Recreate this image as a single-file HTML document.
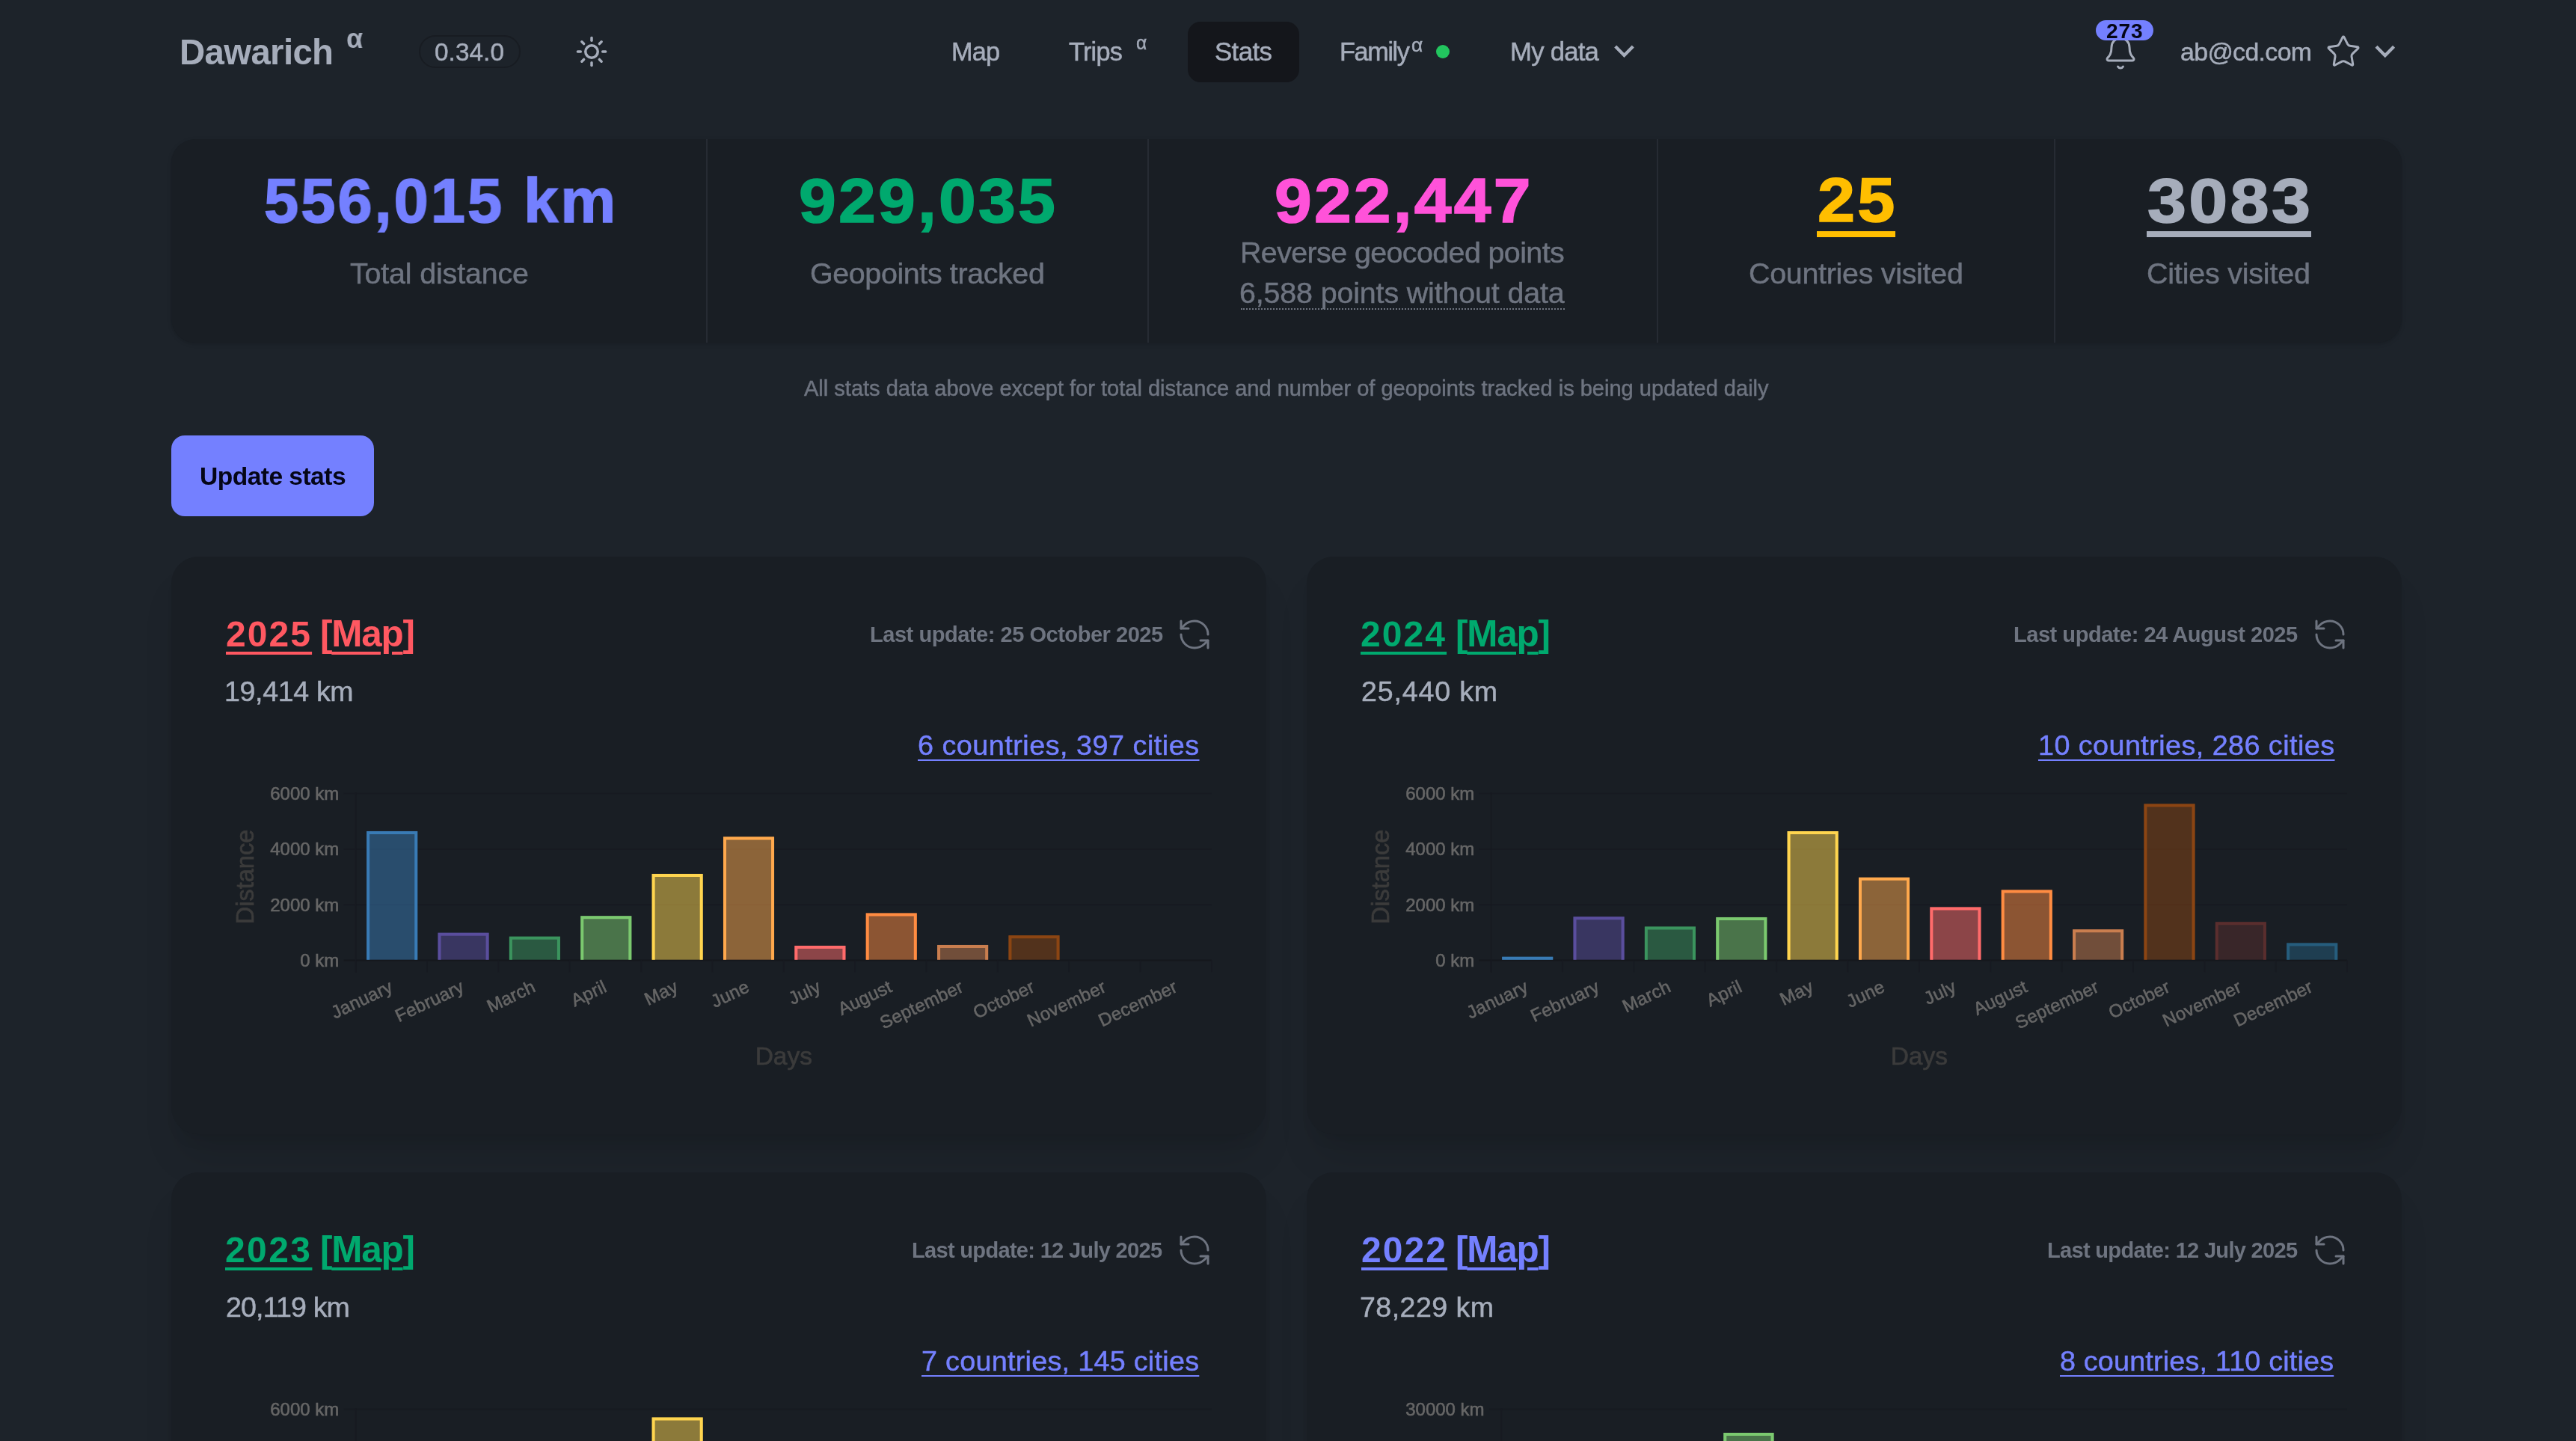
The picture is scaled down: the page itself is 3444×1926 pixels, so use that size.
<!DOCTYPE html>
<html><head><meta charset="utf-8"><title>Dawarich Stats</title>
<style>
html,body{margin:0;padding:0;width:3444px;height:1926px;overflow:hidden;background:#1d232a}
body{position:relative;font-family:"Liberation Sans",sans-serif}
.t{position:absolute;white-space:nowrap;will-change:transform}
svg{will-change:transform}
</style></head><body>
<div class="t" id="t0" style="left:240.00px;top:46.31px;font-size:47.41px;line-height:47.41px;color:#a6adbb;font-weight:700;letter-spacing:-0.679px;">Dawarich</div>
<div class="t" id="t1" style="left:463.00px;top:33.30px;font-size:37.00px;line-height:37.00px;color:#a6adbb;font-weight:700;letter-spacing:0.000px;transform:scaleX(0.9758);transform-origin:0 0;">α</div>
<div style="position:absolute;left:560px;top:47px;width:136px;height:44px;border:2.5px solid #181c22;border-radius:22px;box-sizing:border-box;background:#1d232a"></div>
<div class="t" id="t2" style="left:581.00px;top:53.00px;font-size:33.33px;line-height:33.33px;color:#a6adbb;font-weight:400;letter-spacing:0.060px;-webkit-text-stroke:0.5px #a6adbb;">0.34.0</div>
<svg style="position:absolute;left:0;top:0;overflow:visible" width="1" height="1" fill="none" stroke="#a6adbb" stroke-width="3.5" stroke-linecap="round"><circle cx="791" cy="69" r="8.25"/><line x1="805.70" y1="69.00" x2="809.60" y2="69.00"/><line x1="801.39" y1="79.39" x2="804.15" y2="82.15"/><line x1="791.00" y1="83.70" x2="791.00" y2="87.60"/><line x1="780.61" y1="79.39" x2="777.85" y2="82.15"/><line x1="776.30" y1="69.00" x2="772.40" y2="69.00"/><line x1="780.61" y1="58.61" x2="777.85" y2="55.85"/><line x1="791.00" y1="54.30" x2="791.00" y2="50.40"/><line x1="801.39" y1="58.61" x2="804.15" y2="55.85"/></svg>
<div class="t" id="t3" style="left:1272.00px;top:52.10px;font-size:34.30px;line-height:34.30px;color:#a6adbb;font-weight:400;letter-spacing:-0.850px;-webkit-text-stroke:0.5px #a6adbb;">Map</div>
<div class="t" id="t4" style="left:1429.00px;top:52.10px;font-size:34.30px;line-height:34.30px;color:#a6adbb;font-weight:400;letter-spacing:-0.738px;-webkit-text-stroke:0.5px #a6adbb;">Trips</div>
<div class="t" id="t5" style="left:1519.00px;top:44.21px;font-size:26.50px;line-height:26.50px;color:#a6adbb;font-weight:400;letter-spacing:0.000px;transform:scaleX(0.9297);transform-origin:0 0;-webkit-text-stroke:0.5px #a6adbb;">α</div>
<div style="position:absolute;left:1588px;top:29px;width:149px;height:81px;background:#14161b;border-radius:17px"></div>
<div class="t" id="t6" style="left:1624.00px;top:52.31px;font-size:34.88px;line-height:34.88px;color:#a6adbb;font-weight:400;letter-spacing:-0.637px;-webkit-text-stroke:0.5px #a6adbb;">Stats</div>
<div class="t" id="t7" style="left:1791.00px;top:52.31px;font-size:34.30px;line-height:34.30px;color:#a6adbb;font-weight:400;letter-spacing:-1.400px;-webkit-text-stroke:0.5px #a6adbb;">Family</div>
<div class="t" id="t8" style="left:1887.00px;top:47.10px;font-size:26.00px;line-height:26.00px;color:#a6adbb;font-weight:400;letter-spacing:0.000px;transform:scaleX(1.0145);transform-origin:0 0;-webkit-text-stroke:0.5px #a6adbb;">α</div>
<div style="position:absolute;left:1920px;top:60px;width:18px;height:18px;background:#22c55e;border-radius:50%"></div>
<div class="t" id="t9" style="left:2019.00px;top:52.31px;font-size:34.74px;line-height:34.74px;color:#a6adbb;font-weight:400;letter-spacing:-0.775px;-webkit-text-stroke:0.5px #a6adbb;">My data</div>
<svg style="position:absolute;left:0;top:0;overflow:visible" width="1" height="1"><polyline points="2159.7,62.1 2171.5,74.0 2183.3,62.1" fill="none" stroke="#a6adbb" stroke-width="4.3" stroke-linecap="butt" stroke-linejoin="miter"/></svg>
<svg style="position:absolute;left:2811px;top:46.8px" width="48" height="48" viewBox="0 0 24 24" fill="none" stroke="#a6adbb" stroke-width="1.5" stroke-linecap="round" stroke-linejoin="round"><path d="M10.268 21a2 2 0 0 0 3.464 0"/><path d="M3.262 15.326A1 1 0 0 0 4 17h16a1 1 0 0 0 .74-1.673C19.41 13.956 18 12.499 18 8A6 6 0 0 0 6 8c0 4.499-1.411 5.956-2.738 7.326"/></svg>
<div style="position:absolute;left:2802px;top:27px;width:77px;height:27px;background:#7480ff;border-radius:14px"></div>
<div class="t" id="t10" style="left:2815.60px;top:28.00px;font-size:28.11px;line-height:28.11px;color:#050617;font-weight:700;letter-spacing:0.900px;">273</div>
<div class="t" id="t11" style="left:2915.00px;top:52.91px;font-size:33.87px;line-height:33.87px;color:#a6adbb;font-weight:400;letter-spacing:-0.638px;-webkit-text-stroke:0.5px #a6adbb;">ab@cd.com</div>
<svg style="position:absolute;left:3108.5px;top:45px" width="48" height="48" viewBox="0 0 24 24" fill="none" stroke="#a6adbb" stroke-width="1.5" stroke-linecap="round" stroke-linejoin="round"><path d="M11.525 2.295a.53.53 0 0 1 .95 0l2.31 4.679a2.123 2.123 0 0 0 1.595 1.16l5.166.756a.53.53 0 0 1 .294.904l-3.736 3.638a2.123 2.123 0 0 0-.611 1.878l.882 5.14a.53.53 0 0 1-.771.56l-4.618-2.428a2.122 2.122 0 0 0-1.973 0L6.396 21.01a.53.53 0 0 1-.77-.56l.881-5.139a2.122 2.122 0 0 0-.611-1.879L2.16 9.795a.53.53 0 0 1 .294-.906l5.165-.755a2.122 2.122 0 0 0 1.597-1.16z"/></svg>
<svg style="position:absolute;left:0;top:0;overflow:visible" width="1" height="1"><polyline points="3176.95,62.300000000000004 3188.75,74.2 3200.55,62.300000000000004" fill="none" stroke="#a6adbb" stroke-width="4.3" stroke-linecap="butt" stroke-linejoin="miter"/></svg>
<div style="position:absolute;left:229px;top:186px;width:2982px;height:272px;background:#191e24;border-radius:32px;box-shadow:0 2px 6px 0 rgba(0,0,0,.1),0 2px 4px -2px rgba(0,0,0,.1)"></div>
<div style="position:absolute;left:944px;top:186px;width:2px;height:272px;background:#262b33"></div>
<div style="position:absolute;left:1534px;top:186px;width:2px;height:272px;background:#262b33"></div>
<div style="position:absolute;left:2215px;top:186px;width:2px;height:272px;background:#262b33"></div>
<div style="position:absolute;left:2746px;top:186px;width:2px;height:272px;background:#262b33"></div>
<div class="t" id="t12" style="left:353.00px;top:225.81px;font-size:84.04px;line-height:84.04px;color:#7480ff;font-weight:700;letter-spacing:3.000px;transform:scaleX(0.9888);transform-origin:0 0;-webkit-text-stroke:1.6px #7480ff;">556,015 km</div>
<div class="t" id="t13" style="left:1068.40px;top:225.61px;font-size:84.04px;line-height:84.04px;color:#00a96e;font-weight:700;letter-spacing:3.000px;transform:scaleX(1.0658);transform-origin:0 0;-webkit-text-stroke:1.6px #00a96e;">929,035</div>
<div class="t" id="t14" style="left:1704.20px;top:225.72px;font-size:84.04px;line-height:84.04px;color:#ff52d9;font-weight:700;letter-spacing:3.000px;transform:scaleX(1.0641);transform-origin:0 0;-webkit-text-stroke:1.6px #ff52d9;">922,447</div>
<div class="t" id="t15" style="left:2430.00px;top:225.11px;font-size:84.04px;line-height:84.04px;color:#ffbe00;font-weight:700;letter-spacing:3.000px;transform:scaleX(1.0710);transform-origin:0 0;-webkit-text-stroke:1.6px #ffbe00;">25</div>
<div style="position:absolute;left:2429px;top:309px;width:105px;height:8px;background:#ffbe00"></div>
<div class="t" id="t16" style="left:2871.00px;top:226.22px;font-size:84.04px;line-height:84.04px;color:#a6adbb;font-weight:700;letter-spacing:3.000px;transform:scaleX(1.1120);transform-origin:0 0;-webkit-text-stroke:1.6px #a6adbb;">3083</div>
<div style="position:absolute;left:2870px;top:309px;width:220px;height:8px;background:#a6adbb"></div>
<div class="t" id="t17" style="left:468.00px;top:346.20px;font-size:39.39px;line-height:39.39px;color:#6e7480;font-weight:400;letter-spacing:-0.146px;-webkit-text-stroke:0.5px #6e7480;">Total distance</div>
<div class="t" id="t18" style="left:1083.00px;top:346.00px;font-size:39.39px;line-height:39.39px;color:#6e7480;font-weight:400;letter-spacing:-0.359px;-webkit-text-stroke:0.5px #6e7480;">Geopoints tracked</div>
<div class="t" id="t19" style="left:1658.00px;top:318.41px;font-size:39.39px;line-height:39.39px;color:#6e7480;font-weight:400;letter-spacing:-0.584px;-webkit-text-stroke:0.5px #6e7480;">Reverse geocoded points</div>
<div class="t" id="t20" style="left:1657.00px;top:372.20px;font-size:39.39px;line-height:39.39px;color:#6e7480;font-weight:400;letter-spacing:-0.131px;-webkit-text-stroke:0.5px #6e7480;">6,588 points without data</div>
<div style="position:absolute;left:1659px;top:411.5px;width:433px;height:0;border-top:2px dotted #6e7480"></div>
<div class="t" id="t21" style="left:2338.00px;top:346.11px;font-size:39.39px;line-height:39.39px;color:#6e7480;font-weight:400;letter-spacing:-0.266px;-webkit-text-stroke:0.5px #6e7480;">Countries visited</div>
<div class="t" id="t22" style="left:2870.00px;top:346.00px;font-size:39.39px;line-height:39.39px;color:#6e7480;font-weight:400;letter-spacing:-0.165px;-webkit-text-stroke:0.5px #6e7480;">Cities visited</div>
<div class="t" id="t23" style="left:1075.00px;top:505.00px;font-size:29.07px;line-height:29.07px;color:#6e7480;font-weight:400;letter-spacing:-0.013px;-webkit-text-stroke:0.5px #6e7480;">All stats data above except for total distance and number of geopoints tracked is being updated daily</div>
<div style="position:absolute;left:229px;top:582px;width:271px;height:108px;background:#7480ff;border-radius:18px"></div>
<div class="t" id="t24" style="left:267.30px;top:619.80px;font-size:33.58px;line-height:33.58px;color:#050617;font-weight:700;letter-spacing:-0.541px;">Update stats</div>
<div style="position:absolute;left:229px;top:744px;width:1464px;height:772px;background:#191e24;border-radius:36px;box-shadow:0 40px 50px -10px rgba(0,0,0,.1),0 16px 20px -12px rgba(0,0,0,.1)"></div>
<div class="t" id="t25" style="left:302.00px;top:824.10px;font-size:48.02px;line-height:48.02px;color:#ff5861;font-weight:700;letter-spacing:2.067px;text-decoration:underline;text-decoration-skip-ink:auto;text-decoration-thickness:4px;text-underline-offset:7px;">2025</div>
<div class="t" id="t26" style="left:428.00px;top:822.10px;font-size:49.42px;line-height:49.42px;color:#ff5861;font-weight:700;letter-spacing:-1.175px;">[<u style="text-decoration-thickness:4px;text-underline-offset:7px;text-decoration-skip-ink:auto">Map</u>]</div>
<div class="t" id="t27" style="left:300.40px;top:905.61px;font-size:37.57px;line-height:37.57px;color:#a6adbb;font-weight:400;letter-spacing:-0.344px;-webkit-text-stroke:0.5px #a6adbb;">19,414 km</div>
<div class="t" id="t28" style="left:1163.00px;top:833.81px;font-size:29.07px;line-height:29.07px;color:#6e7480;font-weight:700;letter-spacing:-0.491px;">Last update: 25 October 2025</div>
<svg style="position:absolute;left:1573px;top:824px" width="48" height="48" viewBox="0 0 24 24" fill="none" stroke="#6e7480" stroke-width="1.5" stroke-linecap="round" stroke-linejoin="round"><path d="M21 12a9 9 0 0 0-9-9 9.75 9.75 0 0 0-6.74 2.74L3 8"/><path d="M3 3v5h5"/><path d="M3 12a9 9 0 0 0 9 9 9.75 9.75 0 0 0 6.74-2.74L21 16"/><path d="M16 16h5v5"/></svg>
<div class="t" id="t29" style="left:1227.00px;top:978.00px;font-size:37.71px;line-height:37.71px;color:#7480ff;font-weight:400;letter-spacing:0.516px;-webkit-text-stroke:0.5px #7480ff;text-decoration:underline;text-decoration-skip-ink:auto;text-decoration-thickness:2px;text-underline-offset:6px;">6 countries, 397 cities</div>
<svg style="position:absolute;left:0;top:0;overflow:visible" width="1" height="1" font-family="Liberation Sans, sans-serif"><line x1="459.6" y1="1283.5" x2="1620" y2="1283.5" stroke="#14171c" stroke-width="2"/><text x="453.3" y="1291.8" text-anchor="end" font-size="24" fill="#666" stroke="#666" stroke-width="0.6">0 km</text><line x1="459.6" y1="1209.2" x2="1620" y2="1209.2" stroke="#171a21" stroke-width="2"/><text x="453.3" y="1217.5" text-anchor="end" font-size="24" fill="#666" stroke="#666" stroke-width="0.6">2000 km</text><line x1="459.6" y1="1134.8999999999999" x2="1620" y2="1134.8999999999999" stroke="#171a21" stroke-width="2"/><text x="453.3" y="1143.1999999999998" text-anchor="end" font-size="24" fill="#666" stroke="#666" stroke-width="0.6">4000 km</text><line x1="459.6" y1="1060.6" x2="1620" y2="1060.6" stroke="#171a21" stroke-width="2"/><text x="453.3" y="1068.8999999999999" text-anchor="end" font-size="24" fill="#666" stroke="#666" stroke-width="0.6">6000 km</text><line x1="475.6" y1="1059.6" x2="475.6" y2="1299.5" stroke="#171a21" stroke-width="2"/><line x1="475.6" y1="1283.5" x2="475.6" y2="1299.5" stroke="#171a21" stroke-width="2"/><line x1="570.9666666666667" y1="1283.5" x2="570.9666666666667" y2="1299.5" stroke="#171a21" stroke-width="2"/><line x1="666.3333333333334" y1="1283.5" x2="666.3333333333334" y2="1299.5" stroke="#171a21" stroke-width="2"/><line x1="761.7" y1="1283.5" x2="761.7" y2="1299.5" stroke="#171a21" stroke-width="2"/><line x1="857.0666666666667" y1="1283.5" x2="857.0666666666667" y2="1299.5" stroke="#171a21" stroke-width="2"/><line x1="952.4333333333334" y1="1283.5" x2="952.4333333333334" y2="1299.5" stroke="#171a21" stroke-width="2"/><line x1="1047.8000000000002" y1="1283.5" x2="1047.8000000000002" y2="1299.5" stroke="#171a21" stroke-width="2"/><line x1="1143.1666666666667" y1="1283.5" x2="1143.1666666666667" y2="1299.5" stroke="#171a21" stroke-width="2"/><line x1="1238.5333333333333" y1="1283.5" x2="1238.5333333333333" y2="1299.5" stroke="#171a21" stroke-width="2"/><line x1="1333.9" y1="1283.5" x2="1333.9" y2="1299.5" stroke="#171a21" stroke-width="2"/><line x1="1429.2666666666669" y1="1283.5" x2="1429.2666666666669" y2="1299.5" stroke="#171a21" stroke-width="2"/><line x1="1524.6333333333332" y1="1283.5" x2="1524.6333333333332" y2="1299.5" stroke="#171a21" stroke-width="2"/><line x1="1620.0" y1="1283.5" x2="1620.0" y2="1299.5" stroke="#171a21" stroke-width="2"/><rect x="490.15" y="1110.9" width="68.06" height="171.80" fill="rgba(57,123,181,0.5)"/><path d="M492.15,1282.70 V1112.90 H556.22 V1282.70" fill="none" stroke="#397bb5" stroke-width="4"/><rect x="585.52" y="1246.7" width="68.06" height="36.00" fill="rgba(90,78,157,0.5)"/><path d="M587.52,1282.70 V1248.70 H651.58 V1282.70" fill="none" stroke="#5A4E9D" stroke-width="4"/><rect x="680.88" y="1251.7" width="68.06" height="31.00" fill="rgba(59,148,94,0.5)"/><path d="M682.88,1282.70 V1253.70 H746.95 V1282.70" fill="none" stroke="#3B945E" stroke-width="4"/><rect x="776.25" y="1224.2" width="68.06" height="58.50" fill="rgba(123,201,111,0.5)"/><path d="M778.25,1282.70 V1226.20 H842.32 V1282.70" fill="none" stroke="#7BC96F" stroke-width="4"/><rect x="871.62" y="1167.9" width="68.06" height="114.80" fill="rgba(255,213,79,0.5)"/><path d="M873.62,1282.70 V1169.90 H937.68 V1282.70" fill="none" stroke="#FFD54F" stroke-width="4"/><rect x="966.98" y="1118.4" width="68.06" height="164.30" fill="rgba(255,169,77,0.5)"/><path d="M968.98,1282.70 V1120.40 H1033.05 V1282.70" fill="none" stroke="#FFA94D" stroke-width="4"/><rect x="1062.35" y="1264.1" width="68.06" height="18.60" fill="rgba(255,107,107,0.5)"/><path d="M1064.35,1282.70 V1266.10 H1128.42 V1282.70" fill="none" stroke="#FF6B6B" stroke-width="4"/><rect x="1157.72" y="1220.5" width="68.06" height="62.20" fill="rgba(255,140,66,0.5)"/><path d="M1159.72,1282.70 V1222.50 H1223.78 V1282.70" fill="none" stroke="#FF8C42" stroke-width="4"/><rect x="1253.08" y="1262.9" width="68.06" height="19.80" fill="rgba(201,126,79,0.5)"/><path d="M1255.08,1282.70 V1264.90 H1319.15 V1282.70" fill="none" stroke="#C97E4F" stroke-width="4"/><rect x="1348.45" y="1250.3" width="68.06" height="32.40" fill="rgba(139,69,19,0.5)"/><path d="M1350.45,1282.70 V1252.30 H1414.52 V1282.70" fill="none" stroke="#8B4513" stroke-width="4"/><text transform="translate(517.13,1304.00) rotate(-25.3)" x="0" y="22.7" text-anchor="end" font-size="24" letter-spacing="0.3" fill="#666" stroke="#666" stroke-width="0.6">January</text><text transform="translate(612.50,1304.00) rotate(-25.3)" x="0" y="22.7" text-anchor="end" font-size="24" letter-spacing="0.3" fill="#666" stroke="#666" stroke-width="0.6">February</text><text transform="translate(707.86,1304.00) rotate(-25.3)" x="0" y="22.7" text-anchor="end" font-size="24" letter-spacing="0.3" fill="#666" stroke="#666" stroke-width="0.6">March</text><text transform="translate(803.23,1304.00) rotate(-25.3)" x="0" y="22.7" text-anchor="end" font-size="24" letter-spacing="0.3" fill="#666" stroke="#666" stroke-width="0.6">April</text><text transform="translate(898.60,1304.00) rotate(-25.3)" x="0" y="22.7" text-anchor="end" font-size="24" letter-spacing="0.3" fill="#666" stroke="#666" stroke-width="0.6">May</text><text transform="translate(993.96,1304.00) rotate(-25.3)" x="0" y="22.7" text-anchor="end" font-size="24" letter-spacing="0.3" fill="#666" stroke="#666" stroke-width="0.6">June</text><text transform="translate(1089.33,1304.00) rotate(-25.3)" x="0" y="22.7" text-anchor="end" font-size="24" letter-spacing="0.3" fill="#666" stroke="#666" stroke-width="0.6">July</text><text transform="translate(1184.70,1304.00) rotate(-25.3)" x="0" y="22.7" text-anchor="end" font-size="24" letter-spacing="0.3" fill="#666" stroke="#666" stroke-width="0.6">August</text><text transform="translate(1280.06,1304.00) rotate(-25.3)" x="0" y="22.7" text-anchor="end" font-size="24" letter-spacing="0.3" fill="#666" stroke="#666" stroke-width="0.6">September</text><text transform="translate(1375.43,1304.00) rotate(-25.3)" x="0" y="22.7" text-anchor="end" font-size="24" letter-spacing="0.3" fill="#666" stroke="#666" stroke-width="0.6">October</text><text transform="translate(1470.80,1304.00) rotate(-25.3)" x="0" y="22.7" text-anchor="end" font-size="24" letter-spacing="0.3" fill="#666" stroke="#666" stroke-width="0.6">November</text><text transform="translate(1566.16,1304.00) rotate(-25.3)" x="0" y="22.7" text-anchor="end" font-size="24" letter-spacing="0.3" fill="#666" stroke="#666" stroke-width="0.6">December</text><text x="1047.8" y="1422.8" text-anchor="middle" font-size="33.5" fill="#3b3b3b" stroke="#3b3b3b" stroke-width="0.7">Days</text><text transform="translate(339.3,1172) rotate(-90)" text-anchor="middle" font-size="32.5" fill="#3b3b3b" stroke="#3b3b3b" stroke-width="0.7">Distance</text></svg>
<div style="position:absolute;left:1747px;top:744px;width:1464px;height:772px;background:#191e24;border-radius:36px;box-shadow:0 40px 50px -10px rgba(0,0,0,.1),0 16px 20px -12px rgba(0,0,0,.1)"></div>
<div class="t" id="t30" style="left:1819.00px;top:824.10px;font-size:48.02px;line-height:48.02px;color:#00a96e;font-weight:700;letter-spacing:2.067px;text-decoration:underline;text-decoration-skip-ink:auto;text-decoration-thickness:4px;text-underline-offset:7px;">2024</div>
<div class="t" id="t31" style="left:1946.00px;top:822.10px;font-size:49.42px;line-height:49.42px;color:#00a96e;font-weight:700;letter-spacing:-1.175px;">[<u style="text-decoration-thickness:4px;text-underline-offset:7px;text-decoration-skip-ink:auto">Map</u>]</div>
<div class="t" id="t32" style="left:1820.20px;top:905.61px;font-size:37.57px;line-height:37.57px;color:#a6adbb;font-weight:400;letter-spacing:0.831px;-webkit-text-stroke:0.5px #a6adbb;">25,440 km</div>
<div class="t" id="t33" style="left:2692.00px;top:833.81px;font-size:29.07px;line-height:29.07px;color:#6e7480;font-weight:700;letter-spacing:-0.492px;">Last update: 24 August 2025</div>
<svg style="position:absolute;left:3091px;top:824px" width="48" height="48" viewBox="0 0 24 24" fill="none" stroke="#6e7480" stroke-width="1.5" stroke-linecap="round" stroke-linejoin="round"><path d="M21 12a9 9 0 0 0-9-9 9.75 9.75 0 0 0-6.74 2.74L3 8"/><path d="M3 3v5h5"/><path d="M3 12a9 9 0 0 0 9 9 9.75 9.75 0 0 0 6.74-2.74L21 16"/><path d="M16 16h5v5"/></svg>
<div class="t" id="t34" style="left:2725.00px;top:978.00px;font-size:37.71px;line-height:37.71px;color:#7480ff;font-weight:400;letter-spacing:0.452px;-webkit-text-stroke:0.5px #7480ff;text-decoration:underline;text-decoration-skip-ink:auto;text-decoration-thickness:2px;text-underline-offset:6px;">10 countries, 286 cities</div>
<svg style="position:absolute;left:0;top:0;overflow:visible" width="1" height="1" font-family="Liberation Sans, sans-serif"><line x1="1977.6" y1="1283.5" x2="3138" y2="1283.5" stroke="#14171c" stroke-width="2"/><text x="1971.3" y="1291.8" text-anchor="end" font-size="24" fill="#666" stroke="#666" stroke-width="0.6">0 km</text><line x1="1977.6" y1="1209.2" x2="3138" y2="1209.2" stroke="#171a21" stroke-width="2"/><text x="1971.3" y="1217.5" text-anchor="end" font-size="24" fill="#666" stroke="#666" stroke-width="0.6">2000 km</text><line x1="1977.6" y1="1134.8999999999999" x2="3138" y2="1134.8999999999999" stroke="#171a21" stroke-width="2"/><text x="1971.3" y="1143.1999999999998" text-anchor="end" font-size="24" fill="#666" stroke="#666" stroke-width="0.6">4000 km</text><line x1="1977.6" y1="1060.6" x2="3138" y2="1060.6" stroke="#171a21" stroke-width="2"/><text x="1971.3" y="1068.8999999999999" text-anchor="end" font-size="24" fill="#666" stroke="#666" stroke-width="0.6">6000 km</text><line x1="1993.6" y1="1059.6" x2="1993.6" y2="1299.5" stroke="#171a21" stroke-width="2"/><line x1="1993.6" y1="1283.5" x2="1993.6" y2="1299.5" stroke="#171a21" stroke-width="2"/><line x1="2088.9666666666667" y1="1283.5" x2="2088.9666666666667" y2="1299.5" stroke="#171a21" stroke-width="2"/><line x1="2184.333333333333" y1="1283.5" x2="2184.333333333333" y2="1299.5" stroke="#171a21" stroke-width="2"/><line x1="2279.7" y1="1283.5" x2="2279.7" y2="1299.5" stroke="#171a21" stroke-width="2"/><line x1="2375.0666666666666" y1="1283.5" x2="2375.0666666666666" y2="1299.5" stroke="#171a21" stroke-width="2"/><line x1="2470.4333333333334" y1="1283.5" x2="2470.4333333333334" y2="1299.5" stroke="#171a21" stroke-width="2"/><line x1="2565.8" y1="1283.5" x2="2565.8" y2="1299.5" stroke="#171a21" stroke-width="2"/><line x1="2661.1666666666665" y1="1283.5" x2="2661.1666666666665" y2="1299.5" stroke="#171a21" stroke-width="2"/><line x1="2756.5333333333333" y1="1283.5" x2="2756.5333333333333" y2="1299.5" stroke="#171a21" stroke-width="2"/><line x1="2851.9" y1="1283.5" x2="2851.9" y2="1299.5" stroke="#171a21" stroke-width="2"/><line x1="2947.2666666666664" y1="1283.5" x2="2947.2666666666664" y2="1299.5" stroke="#171a21" stroke-width="2"/><line x1="3042.633333333333" y1="1283.5" x2="3042.633333333333" y2="1299.5" stroke="#171a21" stroke-width="2"/><line x1="3138.0" y1="1283.5" x2="3138.0" y2="1299.5" stroke="#171a21" stroke-width="2"/><rect x="2008.15" y="1278.8" width="68.06" height="3.90" fill="rgba(57,123,181,0.5)"/><path d="M2010.15,1282.70 V1280.80 H2074.22 V1282.70" fill="none" stroke="#397bb5" stroke-width="4"/><rect x="2103.52" y="1225.2" width="68.06" height="57.50" fill="rgba(90,78,157,0.5)"/><path d="M2105.52,1282.70 V1227.20 H2169.58 V1282.70" fill="none" stroke="#5A4E9D" stroke-width="4"/><rect x="2198.88" y="1238.5" width="68.06" height="44.20" fill="rgba(59,148,94,0.5)"/><path d="M2200.88,1282.70 V1240.50 H2264.95 V1282.70" fill="none" stroke="#3B945E" stroke-width="4"/><rect x="2294.25" y="1225.9" width="68.06" height="56.80" fill="rgba(123,201,111,0.5)"/><path d="M2296.25,1282.70 V1227.90 H2360.32 V1282.70" fill="none" stroke="#7BC96F" stroke-width="4"/><rect x="2389.62" y="1111" width="68.06" height="171.70" fill="rgba(255,213,79,0.5)"/><path d="M2391.62,1282.70 V1113.00 H2455.68 V1282.70" fill="none" stroke="#FFD54F" stroke-width="4"/><rect x="2484.98" y="1172.8" width="68.06" height="109.90" fill="rgba(255,169,77,0.5)"/><path d="M2486.98,1282.70 V1174.80 H2551.05 V1282.70" fill="none" stroke="#FFA94D" stroke-width="4"/><rect x="2580.35" y="1212.4" width="68.06" height="70.30" fill="rgba(255,107,107,0.5)"/><path d="M2582.35,1282.70 V1214.40 H2646.42 V1282.70" fill="none" stroke="#FF6B6B" stroke-width="4"/><rect x="2675.72" y="1189.5" width="68.06" height="93.20" fill="rgba(255,140,66,0.5)"/><path d="M2677.72,1282.70 V1191.50 H2741.78 V1282.70" fill="none" stroke="#FF8C42" stroke-width="4"/><rect x="2771.08" y="1242.2" width="68.06" height="40.50" fill="rgba(201,126,79,0.5)"/><path d="M2773.08,1282.70 V1244.20 H2837.15 V1282.70" fill="none" stroke="#C97E4F" stroke-width="4"/><rect x="2866.45" y="1074.5" width="68.06" height="208.20" fill="rgba(139,69,19,0.5)"/><path d="M2868.45,1282.70 V1076.50 H2932.52 V1282.70" fill="none" stroke="#8B4513" stroke-width="4"/><rect x="2961.82" y="1232.2" width="68.06" height="50.50" fill="rgba(90,46,46,0.5)"/><path d="M2963.82,1282.70 V1234.20 H3027.88 V1282.70" fill="none" stroke="#5A2E2E" stroke-width="4"/><rect x="3057.18" y="1260.4" width="68.06" height="22.30" fill="rgba(38,93,125,0.5)"/><path d="M3059.18,1282.70 V1262.40 H3123.25 V1282.70" fill="none" stroke="#265d7d" stroke-width="4"/><text transform="translate(2035.13,1304.00) rotate(-25.3)" x="0" y="22.7" text-anchor="end" font-size="24" letter-spacing="0.3" fill="#666" stroke="#666" stroke-width="0.6">January</text><text transform="translate(2130.50,1304.00) rotate(-25.3)" x="0" y="22.7" text-anchor="end" font-size="24" letter-spacing="0.3" fill="#666" stroke="#666" stroke-width="0.6">February</text><text transform="translate(2225.86,1304.00) rotate(-25.3)" x="0" y="22.7" text-anchor="end" font-size="24" letter-spacing="0.3" fill="#666" stroke="#666" stroke-width="0.6">March</text><text transform="translate(2321.23,1304.00) rotate(-25.3)" x="0" y="22.7" text-anchor="end" font-size="24" letter-spacing="0.3" fill="#666" stroke="#666" stroke-width="0.6">April</text><text transform="translate(2416.60,1304.00) rotate(-25.3)" x="0" y="22.7" text-anchor="end" font-size="24" letter-spacing="0.3" fill="#666" stroke="#666" stroke-width="0.6">May</text><text transform="translate(2511.96,1304.00) rotate(-25.3)" x="0" y="22.7" text-anchor="end" font-size="24" letter-spacing="0.3" fill="#666" stroke="#666" stroke-width="0.6">June</text><text transform="translate(2607.33,1304.00) rotate(-25.3)" x="0" y="22.7" text-anchor="end" font-size="24" letter-spacing="0.3" fill="#666" stroke="#666" stroke-width="0.6">July</text><text transform="translate(2702.70,1304.00) rotate(-25.3)" x="0" y="22.7" text-anchor="end" font-size="24" letter-spacing="0.3" fill="#666" stroke="#666" stroke-width="0.6">August</text><text transform="translate(2798.06,1304.00) rotate(-25.3)" x="0" y="22.7" text-anchor="end" font-size="24" letter-spacing="0.3" fill="#666" stroke="#666" stroke-width="0.6">September</text><text transform="translate(2893.43,1304.00) rotate(-25.3)" x="0" y="22.7" text-anchor="end" font-size="24" letter-spacing="0.3" fill="#666" stroke="#666" stroke-width="0.6">October</text><text transform="translate(2988.80,1304.00) rotate(-25.3)" x="0" y="22.7" text-anchor="end" font-size="24" letter-spacing="0.3" fill="#666" stroke="#666" stroke-width="0.6">November</text><text transform="translate(3084.16,1304.00) rotate(-25.3)" x="0" y="22.7" text-anchor="end" font-size="24" letter-spacing="0.3" fill="#666" stroke="#666" stroke-width="0.6">December</text><text x="2565.8" y="1422.8" text-anchor="middle" font-size="33.5" fill="#3b3b3b" stroke="#3b3b3b" stroke-width="0.7">Days</text><text transform="translate(1857.3,1172) rotate(-90)" text-anchor="middle" font-size="32.5" fill="#3b3b3b" stroke="#3b3b3b" stroke-width="0.7">Distance</text></svg>
<div style="position:absolute;left:229px;top:1567px;width:1464px;height:772px;background:#191e24;border-radius:36px;box-shadow:0 40px 50px -10px rgba(0,0,0,.1),0 16px 20px -12px rgba(0,0,0,.1)"></div>
<div class="t" id="t35" style="left:301.00px;top:1647.10px;font-size:48.02px;line-height:48.02px;color:#00a96e;font-weight:700;letter-spacing:2.400px;text-decoration:underline;text-decoration-skip-ink:auto;text-decoration-thickness:4px;text-underline-offset:7px;">2023</div>
<div class="t" id="t36" style="left:428.00px;top:1645.10px;font-size:49.42px;line-height:49.42px;color:#00a96e;font-weight:700;letter-spacing:-1.175px;">[<u style="text-decoration-thickness:4px;text-underline-offset:7px;text-decoration-skip-ink:auto">Map</u>]</div>
<div class="t" id="t37" style="left:301.80px;top:1728.61px;font-size:37.57px;line-height:37.57px;color:#a6adbb;font-weight:400;letter-spacing:-0.844px;-webkit-text-stroke:0.5px #a6adbb;">20,119 km</div>
<div class="t" id="t38" style="left:1219.00px;top:1656.81px;font-size:29.07px;line-height:29.07px;color:#6e7480;font-weight:700;letter-spacing:-0.708px;">Last update: 12 July 2025</div>
<svg style="position:absolute;left:1573px;top:1647px" width="48" height="48" viewBox="0 0 24 24" fill="none" stroke="#6e7480" stroke-width="1.5" stroke-linecap="round" stroke-linejoin="round"><path d="M21 12a9 9 0 0 0-9-9 9.75 9.75 0 0 0-6.74 2.74L3 8"/><path d="M3 3v5h5"/><path d="M3 12a9 9 0 0 0 9 9 9.75 9.75 0 0 0 6.74-2.74L21 16"/><path d="M16 16h5v5"/></svg>
<div class="t" id="t39" style="left:1232.00px;top:1801.00px;font-size:37.71px;line-height:37.71px;color:#7480ff;font-weight:400;letter-spacing:0.289px;-webkit-text-stroke:0.5px #7480ff;text-decoration:underline;text-decoration-skip-ink:auto;text-decoration-thickness:2px;text-underline-offset:6px;">7 countries, 145 cities</div>
<svg style="position:absolute;left:0;top:0;overflow:visible" width="1" height="1" font-family="Liberation Sans, sans-serif"><line x1="459.6" y1="2106.5" x2="1620" y2="2106.5" stroke="#14171c" stroke-width="2"/><text x="453.3" y="2114.8" text-anchor="end" font-size="24" fill="#666" stroke="#666" stroke-width="0.6">0 km</text><line x1="459.6" y1="2032.2" x2="1620" y2="2032.2" stroke="#171a21" stroke-width="2"/><text x="453.3" y="2040.5" text-anchor="end" font-size="24" fill="#666" stroke="#666" stroke-width="0.6">2000 km</text><line x1="459.6" y1="1957.8999999999999" x2="1620" y2="1957.8999999999999" stroke="#171a21" stroke-width="2"/><text x="453.3" y="1966.1999999999998" text-anchor="end" font-size="24" fill="#666" stroke="#666" stroke-width="0.6">4000 km</text><line x1="459.6" y1="1883.6" x2="1620" y2="1883.6" stroke="#171a21" stroke-width="2"/><text x="453.3" y="1891.8999999999999" text-anchor="end" font-size="24" fill="#666" stroke="#666" stroke-width="0.6">6000 km</text><line x1="475.6" y1="1882.6" x2="475.6" y2="2122.5" stroke="#171a21" stroke-width="2"/><line x1="475.6" y1="2106.5" x2="475.6" y2="2122.5" stroke="#171a21" stroke-width="2"/><line x1="570.9666666666667" y1="2106.5" x2="570.9666666666667" y2="2122.5" stroke="#171a21" stroke-width="2"/><line x1="666.3333333333334" y1="2106.5" x2="666.3333333333334" y2="2122.5" stroke="#171a21" stroke-width="2"/><line x1="761.7" y1="2106.5" x2="761.7" y2="2122.5" stroke="#171a21" stroke-width="2"/><line x1="857.0666666666667" y1="2106.5" x2="857.0666666666667" y2="2122.5" stroke="#171a21" stroke-width="2"/><line x1="952.4333333333334" y1="2106.5" x2="952.4333333333334" y2="2122.5" stroke="#171a21" stroke-width="2"/><line x1="1047.8000000000002" y1="2106.5" x2="1047.8000000000002" y2="2122.5" stroke="#171a21" stroke-width="2"/><line x1="1143.1666666666667" y1="2106.5" x2="1143.1666666666667" y2="2122.5" stroke="#171a21" stroke-width="2"/><line x1="1238.5333333333333" y1="2106.5" x2="1238.5333333333333" y2="2122.5" stroke="#171a21" stroke-width="2"/><line x1="1333.9" y1="2106.5" x2="1333.9" y2="2122.5" stroke="#171a21" stroke-width="2"/><line x1="1429.2666666666669" y1="2106.5" x2="1429.2666666666669" y2="2122.5" stroke="#171a21" stroke-width="2"/><line x1="1524.6333333333332" y1="2106.5" x2="1524.6333333333332" y2="2122.5" stroke="#171a21" stroke-width="2"/><line x1="1620.0" y1="2106.5" x2="1620.0" y2="2122.5" stroke="#171a21" stroke-width="2"/><rect x="871.62" y="1894.4" width="68.06" height="211.30" fill="rgba(255,213,79,0.5)"/><path d="M873.62,2105.70 V1896.40 H937.68 V2105.70" fill="none" stroke="#FFD54F" stroke-width="4"/><text transform="translate(517.13,2127.00) rotate(-25.3)" x="0" y="22.7" text-anchor="end" font-size="24" letter-spacing="0.3" fill="#666" stroke="#666" stroke-width="0.6">January</text><text transform="translate(612.50,2127.00) rotate(-25.3)" x="0" y="22.7" text-anchor="end" font-size="24" letter-spacing="0.3" fill="#666" stroke="#666" stroke-width="0.6">February</text><text transform="translate(707.86,2127.00) rotate(-25.3)" x="0" y="22.7" text-anchor="end" font-size="24" letter-spacing="0.3" fill="#666" stroke="#666" stroke-width="0.6">March</text><text transform="translate(803.23,2127.00) rotate(-25.3)" x="0" y="22.7" text-anchor="end" font-size="24" letter-spacing="0.3" fill="#666" stroke="#666" stroke-width="0.6">April</text><text transform="translate(898.60,2127.00) rotate(-25.3)" x="0" y="22.7" text-anchor="end" font-size="24" letter-spacing="0.3" fill="#666" stroke="#666" stroke-width="0.6">May</text><text transform="translate(993.96,2127.00) rotate(-25.3)" x="0" y="22.7" text-anchor="end" font-size="24" letter-spacing="0.3" fill="#666" stroke="#666" stroke-width="0.6">June</text><text transform="translate(1089.33,2127.00) rotate(-25.3)" x="0" y="22.7" text-anchor="end" font-size="24" letter-spacing="0.3" fill="#666" stroke="#666" stroke-width="0.6">July</text><text transform="translate(1184.70,2127.00) rotate(-25.3)" x="0" y="22.7" text-anchor="end" font-size="24" letter-spacing="0.3" fill="#666" stroke="#666" stroke-width="0.6">August</text><text transform="translate(1280.06,2127.00) rotate(-25.3)" x="0" y="22.7" text-anchor="end" font-size="24" letter-spacing="0.3" fill="#666" stroke="#666" stroke-width="0.6">September</text><text transform="translate(1375.43,2127.00) rotate(-25.3)" x="0" y="22.7" text-anchor="end" font-size="24" letter-spacing="0.3" fill="#666" stroke="#666" stroke-width="0.6">October</text><text transform="translate(1470.80,2127.00) rotate(-25.3)" x="0" y="22.7" text-anchor="end" font-size="24" letter-spacing="0.3" fill="#666" stroke="#666" stroke-width="0.6">November</text><text transform="translate(1566.16,2127.00) rotate(-25.3)" x="0" y="22.7" text-anchor="end" font-size="24" letter-spacing="0.3" fill="#666" stroke="#666" stroke-width="0.6">December</text><text x="1047.8" y="2245.8" text-anchor="middle" font-size="33.5" fill="#3b3b3b" stroke="#3b3b3b" stroke-width="0.7">Days</text><text transform="translate(339.3,1995) rotate(-90)" text-anchor="middle" font-size="32.5" fill="#3b3b3b" stroke="#3b3b3b" stroke-width="0.7">Distance</text></svg>
<div style="position:absolute;left:1747px;top:1567px;width:1464px;height:772px;background:#191e24;border-radius:36px;box-shadow:0 40px 50px -10px rgba(0,0,0,.1),0 16px 20px -12px rgba(0,0,0,.1)"></div>
<div class="t" id="t40" style="left:1820.00px;top:1647.10px;font-size:48.02px;line-height:48.02px;color:#7480ff;font-weight:700;letter-spacing:2.067px;text-decoration:underline;text-decoration-skip-ink:auto;text-decoration-thickness:4px;text-underline-offset:7px;">2022</div>
<div class="t" id="t41" style="left:1946.00px;top:1645.10px;font-size:49.42px;line-height:49.42px;color:#7480ff;font-weight:700;letter-spacing:-1.175px;">[<u style="text-decoration-thickness:4px;text-underline-offset:7px;text-decoration-skip-ink:auto">Map</u>]</div>
<div class="t" id="t42" style="left:1817.80px;top:1728.61px;font-size:37.57px;line-height:37.57px;color:#a6adbb;font-weight:400;letter-spacing:0.456px;-webkit-text-stroke:0.5px #a6adbb;">78,229 km</div>
<div class="t" id="t43" style="left:2737.00px;top:1656.81px;font-size:29.07px;line-height:29.07px;color:#6e7480;font-weight:700;letter-spacing:-0.708px;">Last update: 12 July 2025</div>
<svg style="position:absolute;left:3091px;top:1647px" width="48" height="48" viewBox="0 0 24 24" fill="none" stroke="#6e7480" stroke-width="1.5" stroke-linecap="round" stroke-linejoin="round"><path d="M21 12a9 9 0 0 0-9-9 9.75 9.75 0 0 0-6.74 2.74L3 8"/><path d="M3 3v5h5"/><path d="M3 12a9 9 0 0 0 9 9 9.75 9.75 0 0 0 6.74-2.74L21 16"/><path d="M16 16h5v5"/></svg>
<div class="t" id="t44" style="left:2754.00px;top:1801.00px;font-size:37.71px;line-height:37.71px;color:#7480ff;font-weight:400;letter-spacing:0.189px;-webkit-text-stroke:0.5px #7480ff;text-decoration:underline;text-decoration-skip-ink:auto;text-decoration-thickness:2px;text-underline-offset:6px;">8 countries, 110 cities</div>
<svg style="position:absolute;left:0;top:0;overflow:visible" width="1" height="1" font-family="Liberation Sans, sans-serif"><line x1="1991.2" y1="2106.5" x2="3138" y2="2106.5" stroke="#14171c" stroke-width="2"/><text x="1984.6" y="2114.8" text-anchor="end" font-size="24" fill="#666" stroke="#666" stroke-width="0.6">0 km</text><line x1="1991.2" y1="2032.2" x2="3138" y2="2032.2" stroke="#171a21" stroke-width="2"/><text x="1984.6" y="2040.5" text-anchor="end" font-size="24" fill="#666" stroke="#666" stroke-width="0.6">10000 km</text><line x1="1991.2" y1="1957.8999999999999" x2="3138" y2="1957.8999999999999" stroke="#171a21" stroke-width="2"/><text x="1984.6" y="1966.1999999999998" text-anchor="end" font-size="24" fill="#666" stroke="#666" stroke-width="0.6">20000 km</text><line x1="1991.2" y1="1883.6" x2="3138" y2="1883.6" stroke="#171a21" stroke-width="2"/><text x="1984.6" y="1891.8999999999999" text-anchor="end" font-size="24" fill="#666" stroke="#666" stroke-width="0.6">30000 km</text><line x1="2007.2" y1="1882.6" x2="2007.2" y2="2122.5" stroke="#171a21" stroke-width="2"/><line x1="2007.2" y1="2106.5" x2="2007.2" y2="2122.5" stroke="#171a21" stroke-width="2"/><line x1="2101.4333333333334" y1="2106.5" x2="2101.4333333333334" y2="2122.5" stroke="#171a21" stroke-width="2"/><line x1="2195.6666666666665" y1="2106.5" x2="2195.6666666666665" y2="2122.5" stroke="#171a21" stroke-width="2"/><line x1="2289.9" y1="2106.5" x2="2289.9" y2="2122.5" stroke="#171a21" stroke-width="2"/><line x1="2384.133333333333" y1="2106.5" x2="2384.133333333333" y2="2122.5" stroke="#171a21" stroke-width="2"/><line x1="2478.366666666667" y1="2106.5" x2="2478.366666666667" y2="2122.5" stroke="#171a21" stroke-width="2"/><line x1="2572.6" y1="2106.5" x2="2572.6" y2="2122.5" stroke="#171a21" stroke-width="2"/><line x1="2666.8333333333335" y1="2106.5" x2="2666.8333333333335" y2="2122.5" stroke="#171a21" stroke-width="2"/><line x1="2761.0666666666666" y1="2106.5" x2="2761.0666666666666" y2="2122.5" stroke="#171a21" stroke-width="2"/><line x1="2855.3" y1="2106.5" x2="2855.3" y2="2122.5" stroke="#171a21" stroke-width="2"/><line x1="2949.5333333333333" y1="2106.5" x2="2949.5333333333333" y2="2122.5" stroke="#171a21" stroke-width="2"/><line x1="3043.7666666666664" y1="2106.5" x2="3043.7666666666664" y2="2122.5" stroke="#171a21" stroke-width="2"/><line x1="3138.0" y1="2106.5" x2="3138.0" y2="2122.5" stroke="#171a21" stroke-width="2"/><rect x="2304.29" y="1915" width="67.25" height="190.70" fill="rgba(123,201,111,0.5)"/><path d="M2306.29,2105.70 V1917.00 H2369.54 V2105.70" fill="none" stroke="#7BC96F" stroke-width="4"/><text transform="translate(2048.16,2127.00) rotate(-25.3)" x="0" y="22.7" text-anchor="end" font-size="24" letter-spacing="0.3" fill="#666" stroke="#666" stroke-width="0.6">January</text><text transform="translate(2142.40,2127.00) rotate(-25.3)" x="0" y="22.7" text-anchor="end" font-size="24" letter-spacing="0.3" fill="#666" stroke="#666" stroke-width="0.6">February</text><text transform="translate(2236.63,2127.00) rotate(-25.3)" x="0" y="22.7" text-anchor="end" font-size="24" letter-spacing="0.3" fill="#666" stroke="#666" stroke-width="0.6">March</text><text transform="translate(2330.86,2127.00) rotate(-25.3)" x="0" y="22.7" text-anchor="end" font-size="24" letter-spacing="0.3" fill="#666" stroke="#666" stroke-width="0.6">April</text><text transform="translate(2425.10,2127.00) rotate(-25.3)" x="0" y="22.7" text-anchor="end" font-size="24" letter-spacing="0.3" fill="#666" stroke="#666" stroke-width="0.6">May</text><text transform="translate(2519.33,2127.00) rotate(-25.3)" x="0" y="22.7" text-anchor="end" font-size="24" letter-spacing="0.3" fill="#666" stroke="#666" stroke-width="0.6">June</text><text transform="translate(2613.56,2127.00) rotate(-25.3)" x="0" y="22.7" text-anchor="end" font-size="24" letter-spacing="0.3" fill="#666" stroke="#666" stroke-width="0.6">July</text><text transform="translate(2707.80,2127.00) rotate(-25.3)" x="0" y="22.7" text-anchor="end" font-size="24" letter-spacing="0.3" fill="#666" stroke="#666" stroke-width="0.6">August</text><text transform="translate(2802.03,2127.00) rotate(-25.3)" x="0" y="22.7" text-anchor="end" font-size="24" letter-spacing="0.3" fill="#666" stroke="#666" stroke-width="0.6">September</text><text transform="translate(2896.26,2127.00) rotate(-25.3)" x="0" y="22.7" text-anchor="end" font-size="24" letter-spacing="0.3" fill="#666" stroke="#666" stroke-width="0.6">October</text><text transform="translate(2990.50,2127.00) rotate(-25.3)" x="0" y="22.7" text-anchor="end" font-size="24" letter-spacing="0.3" fill="#666" stroke="#666" stroke-width="0.6">November</text><text transform="translate(3084.73,2127.00) rotate(-25.3)" x="0" y="22.7" text-anchor="end" font-size="24" letter-spacing="0.3" fill="#666" stroke="#666" stroke-width="0.6">December</text><text x="2572.6" y="2245.8" text-anchor="middle" font-size="33.5" fill="#3b3b3b" stroke="#3b3b3b" stroke-width="0.7">Days</text><text transform="translate(1857.3,1995) rotate(-90)" text-anchor="middle" font-size="32.5" fill="#3b3b3b" stroke="#3b3b3b" stroke-width="0.7">Distance</text></svg>
</body></html>
